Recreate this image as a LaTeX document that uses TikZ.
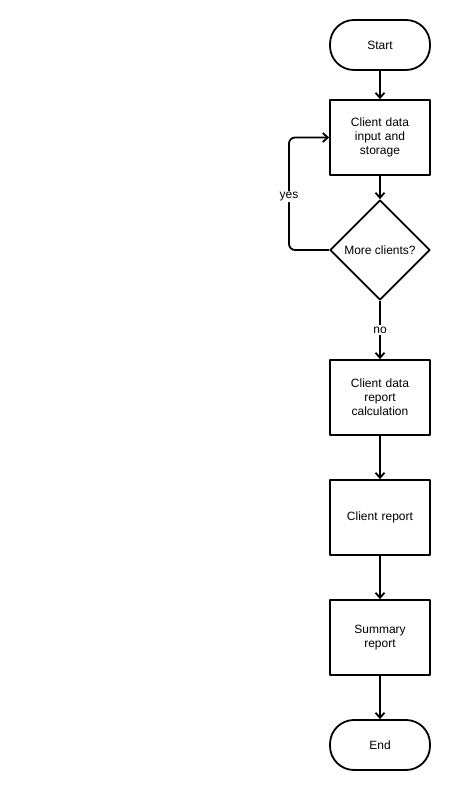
\documentclass[tikz,border=0pt]{standalone}
\usepackage{fontspec}
\setmainfont{Liberation Sans}
\usetikzlibrary{arrows.meta,shapes.geometric}
\begin{document}
\begin{tikzpicture}[>={Straight Barb[length=5bp,width=9bp]},line join=round,
  every node/.style={font=\fontsize{12bp}{14bp}\selectfont},
  box/.style={draw,line width=1.8bp,minimum width=100bp,minimum height=75bp,align=center,text width=90bp},
  term/.style={draw,line width=1.8bp,rounded corners=24bp,minimum width=100bp,minimum height=50bp},
  choice/.style={draw,diamond,line width=1.8bp,minimum width=100bp,minimum height=100bp,inner sep=0pt,aspect=1},
  flow/.style={black,->,line width=1.8bp}]
\useasboundingbox (0bp,0bp) rectangle (456bp,790bp);
%%
\node (start) at (380bp,745bp) [term] {Start};
  \node (input) at (380bp,652.5bp) [box] {Client data\\input and\\storage};
  \node (more) at (380bp,540bp) [choice] {};
  \node at (380bp,540bp) {More clients?};
  \node (calc) at (380bp,392.5bp) [box] {Client data\\report\\calculation};
  \node (client) at (380bp,272.5bp) [box] {Client report};
  \node (summary) at (380bp,152.5bp) [box] {Summary\\report};
  \node (end) at (380bp,45bp) [term] {End};
  \coordinate (loop) at (289bp,540bp);
  \draw [flow] (start) -- (input);
  \draw [flow] (input) -- (more);
  \draw [flow,rounded corners=6bp] (more.west) -- (loop) |- (input.west)
    node [pos=0.237,fill=white,inner sep=1bp] {yes};
  \draw [flow] (more) -- node [fill=white,inner sep=2bp] {no} (calc);
  \draw [flow] (calc) -- (client);
  \draw [flow] (client) -- (summary);
  \draw [flow] (summary) -- (end);
%
\end{tikzpicture}
\end{document}
